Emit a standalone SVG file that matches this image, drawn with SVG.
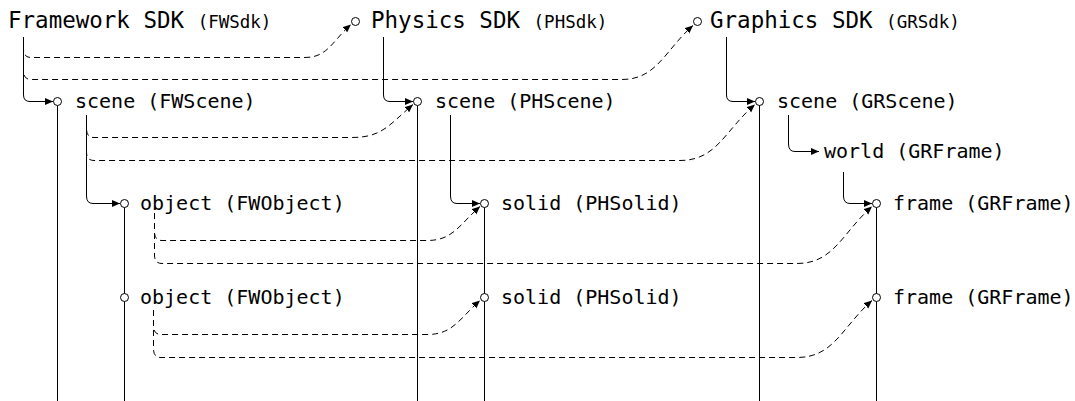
<svg xmlns="http://www.w3.org/2000/svg" width="1075" height="401" viewBox="0 0 1075 401">
<style>
.t{font-family:"DejaVu Sans Mono","Liberation Mono",monospace;font-size:20px;fill:#000}
.h{font-family:"DejaVu Sans Mono","Liberation Mono",monospace;font-size:22.5px;fill:#000}
.s{font-size:17.5px}
.ln{fill:none;stroke:#000;stroke-width:1}
.ds{fill:none;stroke:#000;stroke-width:1;stroke-dasharray:6 4}
.c{fill:#fff;stroke:#000;stroke-width:1}
</style>
<defs>
<marker id="ah" markerUnits="userSpaceOnUse" markerWidth="9" markerHeight="8" refX="8" refY="3.5" orient="auto">
<path d="M0,0 L8,3.5 L0,7 z" fill="#000"/>
</marker>
</defs>
<g id="connectors">
<g id="lifelines">
<path class="ln" d="M57.5,105 V401"/>
<path class="ln" d="M124.5,207 V401"/>
<path class="ln" d="M417.5,105 V401"/>
<path class="ln" d="M484.5,207 V401"/>
<path class="ln" d="M759.5,105 V401"/>
<path class="ln" d="M876.5,207 V401"/>
</g>
<g id="solid-links">
<path class="ln" marker-end="url(#ah)" d="M23.5,37 V95 Q23.5,101.5 30,101.5 H53"/>
<path class="ln" marker-end="url(#ah)" d="M383.5,37 V95 Q383.5,101.5 390,101.5 H413"/>
<path class="ln" marker-end="url(#ah)" d="M726.5,37 V95 Q726.5,101.5 733,101.5 H755"/>
<path class="ln" marker-end="url(#ah)" d="M86.5,115 V196 Q86.5,203.5 93,203.5 H120"/>
<path class="ln" marker-end="url(#ah)" d="M450.5,115 V196 Q450.5,203.5 457,203.5 H480"/>
<path class="ln" marker-end="url(#ah)" d="M788.5,115 V144 Q788.5,151.5 795,151.5 H819"/>
<path class="ln" marker-end="url(#ah)" d="M843.5,172 V196 Q843.5,203.5 850,203.5 H872"/>
</g>
<g id="dashed-links">
<path class="ds" marker-end="url(#ah)" d="M23.5,45 V49 Q23.5,57.5 31,57.5 H305 C328,57.5 333,40 351,24.5"/>
<path class="ds" marker-end="url(#ah)" d="M23.5,45 V71 Q23.5,79.5 31,79.5 H622 C657,79.5 665,50 693,25.5"/>
<path class="ds" marker-end="url(#ah)" d="M86.5,120 V129 Q86.5,137.5 94,137.5 H352 C382,137.5 389,125 413,104.5"/>
<path class="ds" marker-end="url(#ah)" d="M86.5,120 V152 Q86.5,160.5 94,160.5 H680 C717,160.5 725,130 755,104.5"/>
<path class="ds" marker-end="url(#ah)" d="M154.5,213 V232 Q154.5,240.5 162,240.5 H427 C453,240.5 459,225 480,206.5"/>
<path class="ds" marker-end="url(#ah)" d="M154.5,213 V255 Q154.5,263.5 162,263.5 H797 C834,263.5 842,233 872,206.5"/>
<path class="ds" marker-end="url(#ah)" d="M153.5,310 V326 Q153.5,334.5 161,334.5 H427 C453,334.5 459,319 480,300.5"/>
<path class="ds" marker-end="url(#ah)" d="M153.5,310 V349 Q153.5,357.5 161,357.5 H797 C834,357.5 842,327 872,300.5"/>
</g>
</g>
<g id="fw-sdk"><text class="h" x="8" y="28">Framework SDK <tspan class="s">(FWSdk)</tspan></text></g>
<g id="ph-sdk"><circle class="c" cx="355.5" cy="21.5" r="4"/><text class="h" x="371" y="28">Physics SDK <tspan class="s">(PHSdk)</tspan></text></g>
<g id="gr-sdk"><circle class="c" cx="697.5" cy="21.5" r="4"/><text class="h" x="710" y="28">Graphics SDK <tspan class="s">(GRSdk)</tspan></text></g>
<g id="fw-scene"><circle class="c" cx="57.5" cy="101.5" r="4"/><text class="t" x="75" y="108">scene (FWScene)</text></g>
<g id="ph-scene"><circle class="c" cx="417.5" cy="101.5" r="4"/><text class="t" x="435" y="108">scene (PHScene)</text></g>
<g id="gr-scene"><circle class="c" cx="759.5" cy="101.5" r="4"/><text class="t" x="777" y="108">scene (GRScene)</text></g>
<g id="gr-world"><text class="t" x="824" y="158">world (GRFrame)</text></g>
<g id="fw-object-1"><circle class="c" cx="124.5" cy="203.5" r="4"/><text class="t" x="140" y="210">object (FWObject)</text></g>
<g id="ph-solid-1"><circle class="c" cx="484.5" cy="203.5" r="4"/><text class="t" x="501" y="210">solid (PHSolid)</text></g>
<g id="gr-frame-1"><circle class="c" cx="876.5" cy="203.5" r="4"/><text class="t" x="893" y="210">frame (GRFrame)</text></g>
<g id="fw-object-2"><circle class="c" cx="124.5" cy="297.5" r="4"/><text class="t" x="140" y="304">object (FWObject)</text></g>
<g id="ph-solid-2"><circle class="c" cx="484.5" cy="297.5" r="4"/><text class="t" x="501" y="304">solid (PHSolid)</text></g>
<g id="gr-frame-2"><circle class="c" cx="876.5" cy="297.5" r="4"/><text class="t" x="893" y="304">frame (GRFrame)</text></g>
</svg>
